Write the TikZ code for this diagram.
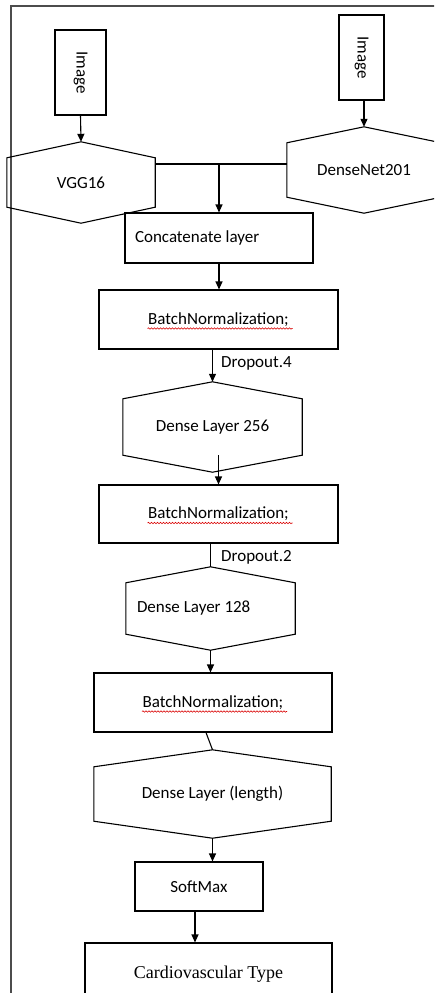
\documentclass[tikz,border=0pt]{standalone}
\usepackage{fontspec}
\setmainfont{Carlito}
\newfontfamily\ctfont{Liberation Serif}
\usetikzlibrary{arrows.meta,decorations.pathmorphing}

\tikzset{
	box/.style={draw, line width=1.1pt, inner sep=0pt, font=\fontsize{17}{20}\selectfont},
	hexmid/.style={inner sep=0pt, font=\fontsize{17}{20}\selectfont},
	arr/.style={line width=1.1pt, -{Triangle[length=8pt,width=7pt]}},
	link/.style={line width=1.1pt},
	squig/.style={red!85!black, line width=0.6pt, decorate, decoration={snake, amplitude=0.7pt, segment length=3pt}}
}
% hexagon round a node: corners of the node, tips above and below
\newcommand\hexout[2]{\draw[line width=1.1pt] (#1.north west) -- ([yshift=#2]#1.north) coordinate (#1-top) -- (#1.north east) -- (#1.south east) -- ([yshift=-#2]#1.south) coordinate (#1-bot) -- (#1.south west) -- cycle;}

\begin{document}
\begin{tikzpicture}[x=1pt,y=-1pt]
	\useasboundingbox (0,0) rectangle (434,993);
	\clip (0,0) rectangle (434,993);
	\draw[black!70, line width=1.5pt] (11,1000) -- (11,6) -- (440,6);
	% inputs
	\node[box, minimum width=51, minimum height=85] (imgL) at (80.5,72.5) {\rotatebox{-90}{Image}};
	\node[box, minimum width=45, minimum height=85] (imgR) at (361.5,57.5) {\rotatebox{-90}{Image}};
	\node[hexmid, minimum width=148, minimum height=49] (vgg) at (81,182.5) {VGG16};
	\node[hexmid, minimum width=154, minimum height=54] (dn) at (364,170) {DenseNet201};
	\hexout{vgg}{16pt}
	\hexout{dn}{16pt}
	% main column
	\node[box, minimum width=188, minimum height=50] (cat) at (219,238) {\makebox[168pt][l]{Concatenate layer}};
	\node[box, minimum width=239, minimum height=59] (bn1) at (218.5,319.5) {BatchNormalization;};
	\node[hexmid, minimum width=179, minimum height=56] (d256) at (212.5,427) {Dense Layer 256};
	\node[box, minimum width=239, minimum height=58] (bn2) at (218.5,514) {BatchNormalization;};
	\node[hexmid, minimum width=169, minimum height=51] (d128) at (210.5,608.5) {\makebox[147pt][l]{Dense Layer 128}};
	\node[box, minimum width=238, minimum height=59] (bn3) at (213,702.5) {BatchNormalization;};
	\node[hexmid, minimum width=237, minimum height=54] (dlen) at (212.5,794) {Dense Layer (length)};
	\node[box, minimum width=128, minimum height=49] (sm) at (199,886.5) {SoftMax};
	\node[box, minimum width=247, minimum height=62, font=\ctfont\fontsize{18}{21}\selectfont] (ct) at (208.5,974) {Cardiovascular Type};
	\hexout{d256}{17pt}
	\hexout{d128}{16pt}
	\hexout{dlen}{17pt}
	% spelling marks
	\draw[squig] ([xshift=-71pt,yshift=-9pt]bn1.center) -- ++(145,0);
	\draw[squig] ([xshift=-71pt,yshift=-9pt]bn2.center) -- ++(145,0);
	\draw[squig] ([xshift=-71pt,yshift=-9pt]bn3.center) -- ++(145,0);
	% connectors
	\coordinate (jn) at (219,164);
	\draw[arr] (imgL.south) -- (vgg-top);
	\draw[arr] (dn-top |- imgR.south) -- (dn-top);
	\draw[link] (vgg.east |- jn) -- (dn.west |- jn);
	\draw[arr] (jn) -- (cat.north);
	\draw[arr] (cat.south) -- (cat.south |- bn1.north);
	\draw[arr] (d256-top |- bn1.south) -- (d256-top);
	\node[anchor=west, inner sep=2pt, font=\fontsize{17}{20}\selectfont] (do4) at (219,363) {Dropout.4};
	\draw[arr] (bn2.north |- d256.south) -- (bn2.north);
	\draw[link] (d128-top |- bn2.south) -- (d128-top);
	\node[anchor=west, inner sep=2pt, font=\fontsize{17}{20}\selectfont] (do2) at (219,557) {Dropout.2};
	\draw[arr] (d128-bot) -- (d128-bot |- bn3.north);
	\draw[link] ([xshift=-7pt]bn3.south) -- (dlen-top);
	\draw[arr] (dlen-bot) -- (dlen-bot |- sm.north);
	\draw[arr] ([xshift=-4pt]sm.south) -- ([xshift=-4pt]sm.south |- ct.north);
\end{tikzpicture}
\end{document}
